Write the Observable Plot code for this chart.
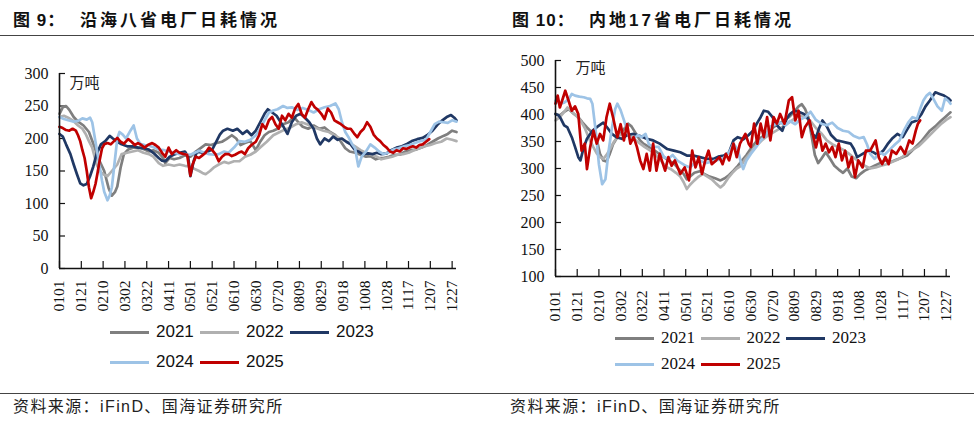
<!DOCTYPE html>
<html>
<head>
<meta charset="utf-8">
<script src="https://cdn.jsdelivr.net/npm/d3@7"></script>
<script src="https://cdn.jsdelivr.net/npm/@observablehq/plot@0.6"></script>
<style>
  html, body { margin: 0; padding: 0; background: #fff; }
  #root { position: relative; width: 974px; height: 424px; background: #fff; overflow: hidden; }
  .abs { position: absolute; white-space: nowrap; }
  .title { font-family: "Liberation Sans", "Noto Sans CJK SC", sans-serif; font-weight: bold; font-size: 17px; color: #111; letter-spacing: 3px; line-height: 20px; }
  .rule { position: absolute; height: 1px; background: #444; }
  .foot { font-family: "Liberation Sans", "Noto Sans CJK SC", sans-serif; font-size: 16px; letter-spacing: 1.4px; color: #222; line-height: 18px; }
  .leg { position: absolute; display: flex; align-items: center; }
  .sw { width: 39px; height: 3px; margin-right: 7px; }
</style>
</head>
<body>
<div id="root"></div>
<script>
// ---------- shared labels ----------
const years = ["2021", "2022", "2023", "2024", "2025"];
const colors = ["#7f7f7f", "#b0b0b0", "#203864", "#9dc3e6", "#c00000"];
const tickDays = [0, 20, 40, 60, 80, 100, 120, 140, 160, 180, 200, 220, 240, 260, 280, 300, 320, 340, 360];
const tickLabels = ["0101","0121","0210","0302","0322","0411","0501","0521","0610","0630","0720","0809","0829","0918","1008","1028","1117","1207","1227"];
const coastalYTicks = [0, 50, 100, 150, 200, 250, 300];
const inlandYTicks = [100, 150, 200, 250, 300, 350, 400, 450, 500];
const unitLabel = "万吨";
const coastalTitleNo = "图 9：";
const coastalTitle = "沿海八省电厂日耗情况";
const inlandTitleNo = "图 10：";
const inlandTitle = "内地17省电厂日耗情况";
const sourceText = "资料来源：iFinD、国海证券研究所";

// ---------- 沿海八省 (day of year, 万吨) ----------
const coastal2021 = [[0,238],[3,248],[6,250],[9,244],[13,233],[17,226],[22,220],[27,210],[31,192],[36,168],[41,150],[45,124],[48,112],[51,118],[53,126],[56,155],[59,176],[63,183],[68,186],[73,186],[78,183],[82,180],[86,182],[91,178],[95,170],[97,162],[101,170],[105,168],[110,170],[115,174],[120,172],[125,180],[130,186],[134,191],[139,190],[144,193],[149,195],[153,199],[158,205],[162,200],[166,190],[170,193],[175,196],[180,182],[184,195],[188,205],[192,210],[196,212],[200,215],[205,222],[210,225],[215,233],[219,225],[223,218],[228,215],[233,220],[238,215],[243,217],[248,210],[253,205],[258,195],[262,185],[266,180],[271,178],[276,175],[281,172],[285,173],[290,168],[294,170],[297,170],[302,172],[307,175],[312,175],[317,180],[322,182],[327,183],[332,186],[337,190],[342,195],[347,200],[352,204],[356,207],[360,212],[364,210]];
const coastal2022 = [[0,233],[4,235],[8,232],[12,228],[17,220],[21,215],[24,207],[27,196],[30,186],[34,160],[37,150],[40,145],[44,142],[48,150],[53,160],[57,176],[62,178],[67,180],[72,182],[77,178],[82,176],[86,172],[91,162],[95,158],[100,160],[105,158],[110,160],[115,158],[119,157],[124,153],[128,150],[131,147],[134,145],[138,150],[142,156],[146,160],[151,164],[155,162],[160,165],[165,165],[170,172],[175,175],[180,180],[184,186],[190,195],[196,205],[202,210],[207,214],[212,217],[217,222],[222,225],[227,222],[232,218],[237,215],[242,212],[247,210],[252,205],[257,200],[262,196],[267,192],[271,188],[276,182],[281,178],[286,175],[291,172],[295,168],[300,170],[305,172],[310,175],[315,176],[320,178],[325,182],[330,185],[335,188],[340,190],[345,193],[350,195],[355,200],[360,198],[364,196]];
const coastal2023 = [[0,207],[3,203],[6,191],[10,176],[13,160],[16,145],[19,131],[22,128],[25,130],[28,142],[31,157],[34,176],[38,191],[42,196],[46,204],[49,200],[53,195],[57,191],[62,188],[67,188],[72,186],[77,185],[82,183],[86,178],[91,170],[94,166],[97,165],[101,172],[106,176],[110,178],[115,180],[118,172],[120,142],[123,165],[126,180],[131,178],[136,180],[140,183],[144,196],[147,206],[150,212],[154,215],[159,212],[163,215],[168,207],[172,212],[176,205],[180,212],[184,225],[188,238],[191,245],[195,240],[199,235],[204,222],[209,207],[213,225],[217,235],[221,238],[225,232],[229,225],[233,215],[236,200],[239,191],[243,200],[247,196],[251,203],[255,198],[259,200],[263,195],[267,191],[271,182],[274,180],[278,176],[283,177],[287,176],[291,178],[295,176],[300,177],[304,182],[309,186],[314,188],[319,192],[323,196],[328,199],[333,201],[337,205],[342,212],[347,222],[351,228],[355,233],[359,236],[362,232],[364,228]];
const coastal2024 = [[0,233],[4,230],[8,228],[13,226],[17,227],[21,231],[25,229],[28,232],[30,225],[32,205],[34,185],[36,165],[39,135],[41,118],[44,105],[46,112],[48,125],[50,155],[53,200],[55,210],[58,206],[61,200],[65,212],[68,220],[71,200],[74,192],[78,190],[82,189],[87,186],[91,183],[96,182],[100,180],[105,178],[110,176],[115,176],[120,175],[124,178],[128,181],[133,178],[137,176],[142,175],[146,176],[151,180],[155,178],[160,186],[165,196],[170,195],[175,198],[180,205],[184,215],[188,228],[192,240],[196,243],[200,245],[205,250],[209,247],[213,248],[218,244],[223,247],[228,244],[233,240],[238,245],[243,248],[248,250],[253,254],[256,245],[259,225],[262,210],[265,202],[268,192],[271,185],[274,157],[277,172],[281,180],[285,191],[289,186],[293,180],[297,176],[301,178],[306,183],[311,185],[316,188],[321,190],[326,193],[331,196],[336,198],[340,210],[344,222],[348,226],[352,225],[356,224],[360,228],[364,226]];
const coastal2025 = [[0,218],[3,216],[6,213],[9,212],[12,215],[15,212],[17,205],[19,196],[21,182],[23,170],[25,150],[27,125],[29,108],[31,118],[33,130],[35,148],[37,168],[39,185],[41,191],[44,193],[47,191],[50,196],[53,201],[56,195],[59,192],[63,199],[66,195],[69,190],[72,193],[75,190],[78,186],[81,190],[85,193],[88,190],[91,186],[94,178],[97,172],[100,186],[103,176],[107,182],[110,178],[114,176],[117,175],[120,143],[122,160],[125,172],[128,170],[131,174],[134,178],[137,186],[140,182],[143,176],[146,165],[149,172],[152,176],[155,176],[158,173],[161,175],[164,178],[167,180],[170,176],[173,185],[176,190],[180,195],[183,205],[186,222],[189,215],[192,228],[195,233],[198,222],[201,215],[204,235],[207,228],[210,238],[213,232],[216,246],[219,253],[222,238],[225,232],[228,245],[231,256],[234,248],[237,244],[240,238],[243,230],[246,246],[249,240],[252,228],[255,225],[258,222],[261,218],[264,215],[267,215],[270,208],[273,202],[276,210],[279,215],[282,225],[285,218],[288,206],[291,200],[294,196],[297,190],[300,186],[303,180],[306,178],[309,182],[312,180],[315,185],[318,184],[321,186],[324,188],[327,186],[330,190],[333,191],[336,195],[339,199]];

// ---------- 内地17省 (day of year, 万吨) ----------
const inland2021 = [[0,401],[4,398],[8,405],[12,410],[17,401],[21,395],[25,385],[29,376],[33,368],[36,360],[39,345],[41,327],[44,315],[47,313],[50,327],[53,345],[57,358],[61,368],[64,375],[67,383],[70,378],[74,365],[78,352],[81,346],[86,340],[90,335],[95,328],[100,321],[104,315],[109,310],[113,300],[118,290],[121,280],[124,285],[128,292],[133,295],[137,290],[142,285],[147,282],[152,278],[156,282],[160,288],[164,296],[168,305],[172,315],[176,325],[181,340],[186,352],[190,358],[195,365],[200,375],[205,382],[210,388],[215,395],[220,405],[224,415],[227,419],[230,410],[233,395],[236,360],[239,325],[242,310],[245,318],[249,330],[253,318],[257,305],[261,298],[265,292],[269,300],[273,285],[277,282],[281,290],[285,296],[289,300],[294,305],[299,310],[304,315],[309,312],[314,316],[319,320],[324,324],[328,332],[333,342],[337,350],[341,360],[345,370],[350,378],[355,388],[359,395],[364,404]];
const inland2022 = [[0,389],[4,395],[8,405],[11,413],[15,405],[19,398],[23,389],[27,375],[31,355],[35,339],[38,328],[41,321],[44,318],[47,325],[50,335],[54,350],[58,360],[62,365],[66,362],[70,358],[74,352],[78,346],[82,340],[86,335],[90,330],[95,320],[99,310],[103,302],[107,298],[111,292],[115,285],[118,275],[121,262],[124,270],[128,278],[132,285],[136,290],[140,285],[144,280],[148,272],[152,265],[155,270],[159,282],[163,292],[167,300],[171,305],[175,318],[180,330],[185,342],[190,352],[195,360],[200,366],[205,372],[210,378],[215,385],[220,392],[225,398],[230,395],[235,388],[240,375],[245,365],[250,352],[255,345],[260,340],[265,335],[270,328],[275,320],[280,312],[285,305],[290,300],[295,302],[300,305],[305,308],[310,312],[315,316],[320,322],[325,330],[330,336],[335,342],[340,352],[345,362],[350,372],[355,382],[360,390],[364,395]];
const inland2023 = [[0,401],[3,398],[5,392],[8,380],[11,376],[15,358],[18,340],[21,321],[23,315],[26,339],[29,355],[34,370],[39,378],[44,385],[48,375],[52,364],[56,358],[61,355],[66,362],[72,364],[78,360],[84,355],[90,352],[96,346],[103,336],[109,333],[115,330],[121,324],[127,324],[133,321],[139,318],[146,318],[150,322],[155,324],[160,330],[164,352],[168,358],[173,354],[178,362],[182,370],[186,385],[189,395],[192,407],[196,405],[200,395],[204,380],[209,370],[213,392],[216,401],[220,407],[224,405],[229,401],[233,392],[237,364],[240,357],[243,375],[246,389],[250,378],[254,362],[259,352],[264,350],[268,348],[272,346],[275,336],[278,321],[283,327],[288,333],[293,330],[297,325],[302,333],[306,345],[310,355],[315,364],[320,358],[324,372],[328,385],[333,389],[337,400],[341,415],[345,426],[350,441],[354,438],[358,435],[362,430],[364,426]];
const inland2024 = [[0,426],[4,420],[8,422],[12,428],[15,438],[18,435],[22,433],[26,432],[29,430],[32,429],[34,420],[37,370],[40,308],[43,271],[46,280],[49,333],[52,375],[55,410],[57,420],[60,408],[63,390],[66,370],[69,352],[72,355],[76,362],[79,358],[83,364],[86,345],[90,340],[95,340],[100,321],[104,318],[108,325],[112,315],[116,310],[120,305],[124,302],[128,310],[133,315],[138,310],[143,312],[148,315],[154,318],[160,330],[164,346],[168,335],[171,310],[173,299],[176,315],[180,327],[185,340],[189,352],[193,360],[198,378],[203,382],[207,385],[212,380],[216,388],[221,382],[225,390],[230,395],[235,405],[240,390],[245,383],[250,380],[255,385],[260,375],[265,370],[270,368],[275,360],[280,356],[284,358],[287,345],[290,327],[294,318],[299,330],[303,325],[308,335],[313,345],[317,352],[321,370],[325,385],[329,395],[333,392],[336,410],[339,426],[342,435],[345,440],[348,430],[352,415],[356,407],[359,430],[362,425],[364,420]];
const inland2025 = [[0,420],[2,435],[4,413],[6,425],[9,444],[12,426],[15,407],[18,415],[21,401],[24,333],[27,346],[29,299],[32,340],[35,370],[38,346],[41,364],[44,352],[47,395],[50,420],[53,395],[57,358],[60,382],[63,352],[66,382],[69,346],[72,358],[75,340],[78,315],[81,299],[84,327],[87,296],[90,346],[93,296],[96,327],[101,296],[104,321],[107,305],[110,315],[115,290],[119,302],[123,278],[126,333],[129,302],[132,321],[135,290],[138,315],[141,333],[144,308],[148,315],[151,321],[154,308],[157,327],[160,315],[164,346],[167,321],[170,346],[175,364],[178,346],[180,340],[183,383],[186,346],[189,383],[192,358],[195,395],[198,352],[201,395],[204,383],[207,401],[211,383],[215,426],[218,432],[221,389],[224,407],[227,358],[230,377],[234,389],[237,364],[240,339],[243,364],[246,333],[249,346],[252,330],[255,340],[258,321],[261,346],[264,315],[267,333],[270,302],[273,321],[276,284],[279,315],[283,302],[286,333],[290,333],[295,352],[298,320],[301,308],[304,321],[307,308],[310,333],[314,327],[318,340],[322,327],[326,352],[329,346],[332,370],[334,383],[336,389]];

const coastalSeries = [coastal2021, coastal2022, coastal2023, coastal2024, coastal2025];
const inlandSeries = [inland2021, inland2022, inland2023, inland2024, inland2025];

function toRows(seriesList) {
  const rows = [];
  seriesList.forEach((s, i) => s.forEach(([day, value]) => rows.push({day, value, year: years[i]})));
  return rows;
}

const serif = "'Liberation Serif', 'DejaVu Serif', serif";

function panel({rows, yDomain, yTicks, width, height, mL, mR, mT, mB, unitDx, unitDy, xPad}) {
  const innerW = width - mL - mR;
  const innerH = height - mT - mB;
  return Plot.plot({
    width, height,
    marginLeft: mL, marginRight: mR, marginTop: mT, marginBottom: mB,
    x: {domain: [0, 364], axis: null, label: null},
    y: {domain: yDomain, axis: null, label: null},
    color: {domain: years, range: colors},
    style: {fontFamily: serif, fontSize: "16px", color: "#000", background: "transparent", overflow: "visible"},
    marks: [
      Plot.axisY(yTicks, {anchor: "left", label: null, tickSize: 0, tickPadding: 11, fontSize: 16, fontFamily: serif, fill: "#111"}),
      Plot.axisX(tickDays, {anchor: "bottom", label: null, tickSize: 0, tickPadding: xPad, tickRotate: -90,
        tickFormat: d => tickLabels[tickDays.indexOf(d)], fontSize: 15.5, fontFamily: serif, fill: "#111"}),
      Plot.tickY(yTicks, {y: d => d, insetRight: innerW - 6, stroke: "#111", strokeWidth: 1.2}),
      Plot.tickX(tickDays, {x: d => d, insetTop: innerH - 7, stroke: "#111", strokeWidth: 1.2}),
      Plot.line(rows, {x: "day", y: "value", z: "year", stroke: "year", strokeWidth: 2.7, strokeLinejoin: "round", strokeLinecap: "round"}),
      Plot.ruleX([0], {stroke: "#111", strokeWidth: 1.6}),
      Plot.ruleY([yDomain[0]], {stroke: "#111", strokeWidth: 1.6}),
      Plot.text([unitLabel], {frameAnchor: "top-left", dx: unitDx, dy: unitDy, textAnchor: "start", lineAnchor: "middle",
        fontFamily: "'Noto Sans CJK SC', sans-serif", fontSize: 15, fill: "#222"})
    ]
  });
}

const root = document.getElementById("root");
function addDiv(cls, style, html) {
  const d = document.createElement("div");
  d.className = cls;
  Object.assign(d.style, style);
  if (html != null) d.textContent = html;
  root.appendChild(d);
  return d;
}

// titles and rules
addDiv("abs title", {left: "13px", top: "11px", letterSpacing: "1px"}, coastalTitleNo);
addDiv("abs title", {left: "80px", top: "11px"}, coastalTitle);
addDiv("abs title", {left: "512px", top: "11px", letterSpacing: "1px"}, inlandTitleNo);
addDiv("abs title", {left: "589px", top: "11px"}, inlandTitle);
addDiv("rule", {left: "0px", top: "35px", width: "487px"});
addDiv("rule", {left: "487px", top: "35px", width: "487px"});
addDiv("rule", {left: "0px", top: "393px", width: "487px"});
addDiv("rule", {left: "487px", top: "393px", width: "487px"});
addDiv("abs foot", {left: "13px", top: "398px"}, sourceText);
addDiv("abs foot", {left: "510px", top: "398px"}, sourceText);

// plots
const left = panel({rows: toRows(coastalSeries), yDomain: [0, 300], yTicks: coastalYTicks,
  width: 487, height: 273, mL: 59, mR: 31, mT: 28, mB: 50, unitDx: 10, unitDy: 10, xPad: 12});
const leftWrap = addDiv("abs", {left: "0px", top: "45px"});
leftWrap.appendChild(left);

const right = panel({rows: toRows(inlandSeries), yDomain: [100, 500], yTicks: inlandYTicks,
  width: 487, height: 281, mL: 68, mR: 24, mT: 15, mB: 50, unitDx: 20, unitDy: 8, xPad: 14});
const rightWrap = addDiv("abs", {left: "487px", top: "45px"});
rightWrap.appendChild(right);

// legends
function legend(x0, step, y0, dy, font, size) {
  years.forEach((yr, i) => {
    const row = i < 3 ? 0 : 1;
    const col = i < 3 ? i : i - 3;
    const item = addDiv("leg", {left: (x0 + col * step) + "px", top: (y0 + row * dy - 10) + "px", height: "20px",
      fontFamily: font, fontSize: size + "px", color: "#111"});
    const sw = document.createElement("span");
    sw.className = "sw";
    sw.style.background = colors[i];
    item.appendChild(sw);
    const t = document.createElement("span");
    t.textContent = yr;
    item.appendChild(t);
  });
}
legend(110, 90, 332, 30, "'Liberation Sans', Arial, sans-serif", 17);
legend(615, 85.5, 338, 26, serif, 17);
</script>
</body>
</html>
